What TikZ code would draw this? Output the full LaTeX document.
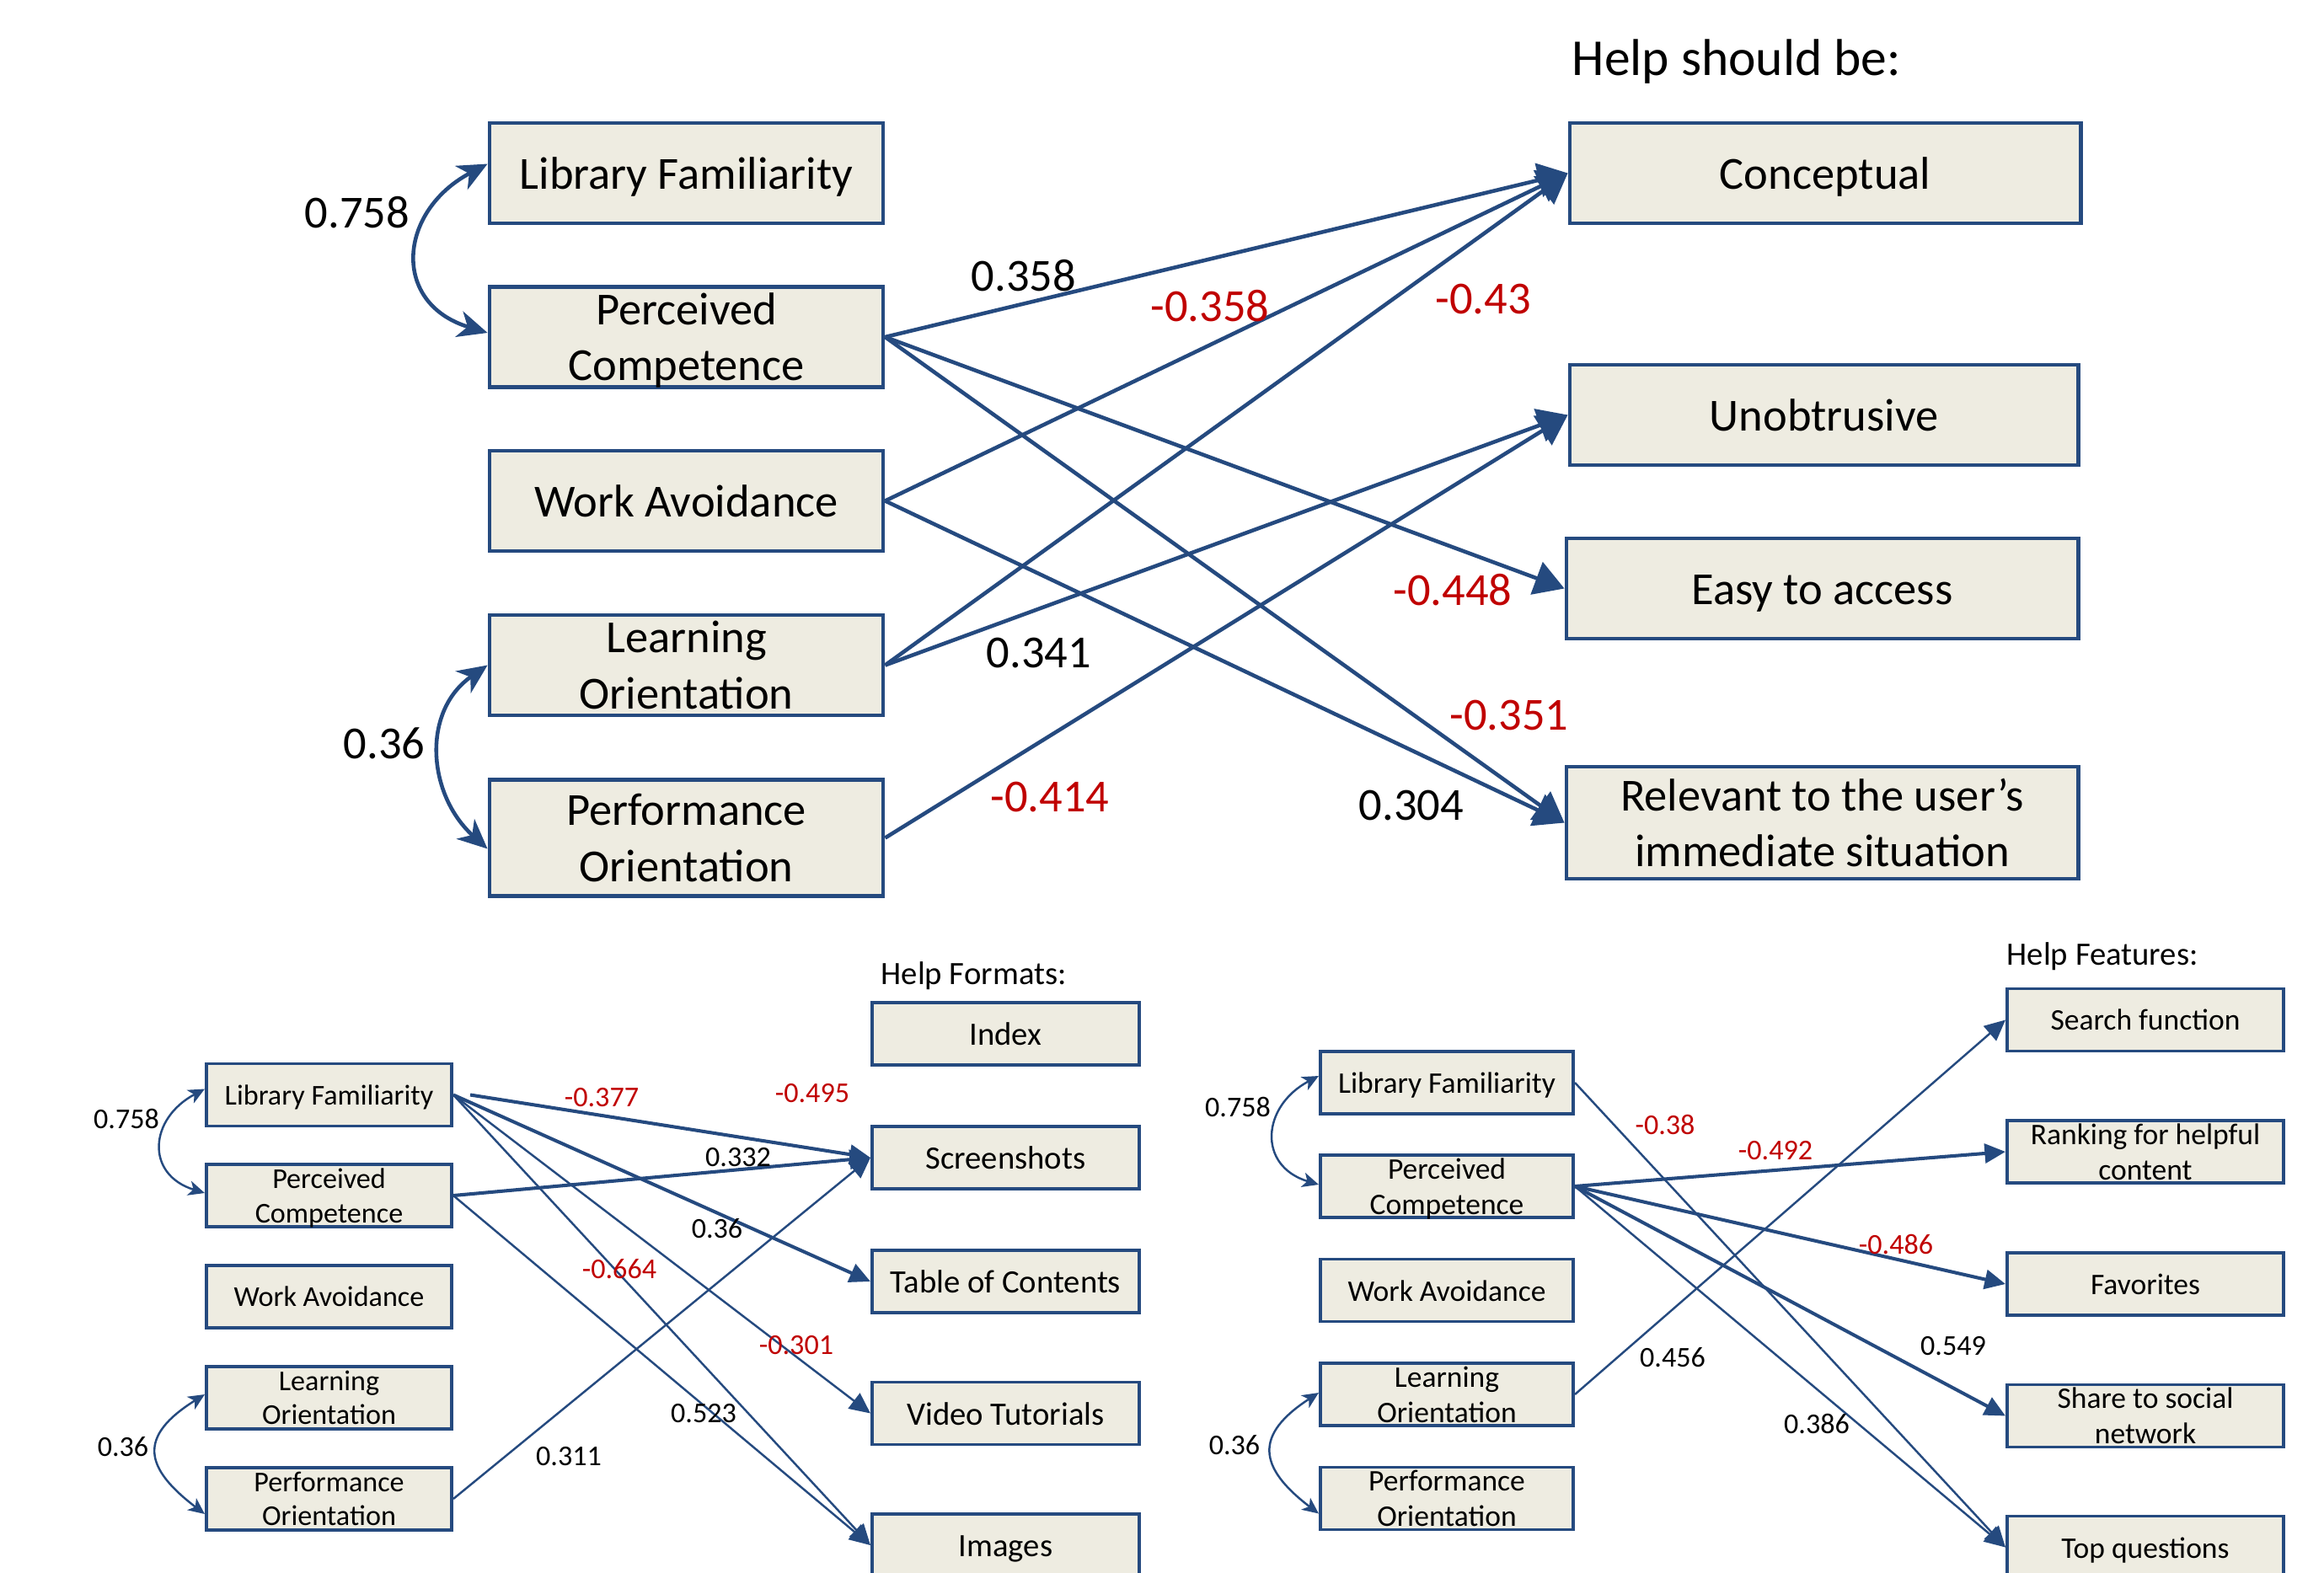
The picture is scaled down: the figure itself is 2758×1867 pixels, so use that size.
\documentclass[tikz,border=0pt]{standalone}
\usepackage{fontspec}
\setmainfont{Carlito}
\usetikzlibrary{arrows.meta,calc}
\definecolor{bcol}{HTML}{254A7F}
\definecolor{bfill}{HTML}{EEECE1}
\definecolor{negred}{HTML}{C00000}
\tikzset{
 tbox/.style={draw=bcol, fill=bfill, line width=1.3pt, inner sep=0pt, align=center,
   font=\fontsize{15.5}{18.8}\selectfont, minimum height=1.19cm},
 onet/.style={text height=10.6pt, text depth=0pt},
 oneb/.style={text height=6.8pt, text depth=0pt},
 onef/.style={text height=7.7pt, text depth=0pt},
 oner/.style={text height=7.1pt, text depth=0pt},
 bxbox/.style={draw=bcol, fill=bfill, line width=1.1pt, inner sep=0pt, align=center,
   font=\fontsize{9.7}{11.5}\selectfont, minimum height=0.74cm},
 fmtbox/.style={bxbox, font=\fontsize{11}{13}\selectfont},
 feabox/.style={bxbox, font=\fontsize{10.1}{11.9}\selectfont},
 tarr/.style={draw=bcol, line width=1.3pt, -{Triangle[length=10pt,width=11.5pt]}},
 tcurve/.style={draw=bcol, line width=1.3pt,
   {Stealth[length=10pt,width=9pt,inset=3pt]}-{Stealth[length=10pt,width=9pt,inset=3pt]}},
 barr/.style={draw=bcol, line width=0.7pt, -{Triangle[length=7pt,width=6.5pt]}},
 barrk/.style={barr, line width=1.15pt},
 bcurve/.style={draw=bcol, line width=0.7pt,
   {Stealth[length=5.5pt,width=5pt,inset=1.5pt]}-{Stealth[length=5.5pt,width=5pt,inset=1.5pt]}},
 tlab/.style={font=\fontsize{15.5}{18}\selectfont, inner sep=0pt},
 blab/.style={font=\fontsize{9.7}{11}\selectfont, inner sep=0pt},
 neg/.style={text=negred},
}
\begin{document}
\begin{tikzpicture}[x=0.01cm,y=-0.01cm]
\useasboundingbox (0,0) rectangle (2758,1867);
\clip (0,0) rectangle (2758,1867);

% ---------------- top diagram ----------------
\node[anchor=base west, font=\fontsize{17.5}{20}\selectfont, inner sep=0pt] (hs) at (1865,90) {Help should be:};

\node[tbox, onet, minimum width=4.67cm] (tLF) at (814.5,205.5) {Library Familiarity};
\node[tbox, minimum width=4.67cm] (tPC) at (814.5,400) {Perceived\\\smash{Competence}};
\node[tbox, onet, minimum width=4.67cm] (tWA) at (814.5,594.5) {Work Avoidance};
\node[tbox, minimum width=4.67cm] (tLO) at (814.5,789.5) {Learning\\Orientation};
\node[tbox, minimum width=4.67cm, minimum height=1.38cm] (tPO) at (814.5,994.5) {Performance\\Orientation};

\node[tbox, onet, minimum width=6.06cm] (tCo) at (2166,205.5) {Conceptual};
\node[tbox, onet, minimum width=6.03cm] (tUn) at (2164.5,492.5) {Unobtrusive};
\node[tbox, onet, minimum width=6.07cm] (tEa) at (2162.5,698.5) {Easy to access};
\node[tbox, minimum width=6.07cm, minimum height=1.33cm] (tRe) at (2162.5,976.5) {Relevant to the user’s\\immediate situation};

\draw[tcurve] ($(tLF.west)+(0,-11)$) .. controls +(-106,56) and +(-115,-35) .. ($(tPC.west)+(0,-5)$);
\draw[tcurve] ($(tLO.west)+(0,0)$) .. controls +(-79,55) and +(-71,-64) .. ($(tPO.west)+(0,13)$);

\draw[tarr] (tPC.east) -- (tCo.west);
\draw[tarr] (tWA.east) -- (tCo.west);
\draw[tarr] (tLO.east) -- (tCo.west);
\draw[tarr] (tPC.east) -- (tEa.west);
\draw[tarr] (tPC.east) -- (tRe.west);
\draw[tarr] (tWA.east) -- (tRe.west);
\draw[tarr] (tLO.east) -- (tUn.west);
\draw[tarr] (tPO.east) -- (tUn.west);

\node[tlab] (l01) at (424,252) {0.758};
\node[tlab] (l02) at (456,882) {0.36};
\node[tlab] (l03) at (1215,327) {0.358};
\node[tlab,neg] (l04) at (1436,363) {-0.358};
\node[tlab,neg] (l05) at (1760,355) {-0.43};
\node[tlab,neg] (l06) at (1724,700) {-0.448};
\node[tlab] (l07) at (1233,775) {0.341};
\node[tlab,neg] (l08) at (1791,849) {-0.351};
\node[tlab,neg] (l09) at (1246,946) {-0.414};
\node[tlab] (l10) at (1675,956) {0.304};

% ---------------- bottom left ----------------
\node[anchor=base west, font=\fontsize{11}{13}\selectfont, inner sep=0pt] (hf) at (1045,1168) {Help Formats:};

\node[bxbox, oneb, minimum width=2.91cm] (bLF) at (390.5,1299.5) {Library Familiarity};
\node[bxbox, minimum width=2.91cm] (bPC) at (390.5,1419) {Perceived\\\smash{Competence}};
\node[bxbox, oneb, minimum width=2.91cm] (bWA) at (390.5,1539) {Work Avoidance};
\node[bxbox, minimum width=2.91cm] (bLO) at (390.5,1659) {Learning\\Orientation};
\node[bxbox, minimum width=2.91cm] (bPO) at (390.5,1779) {Performance\\Orientation};

\node[fmtbox, onef, minimum width=3.17cm] (bIdx) at (1193.5,1227) {Index};
\node[fmtbox, onef, minimum width=3.17cm] (bScr) at (1193.5,1374) {Screenshots};
\node[fmtbox, onef, minimum width=3.17cm] (bToC) at (1193.5,1521) {Table of Contents};
\node[fmtbox, onef, minimum width=3.17cm] (bVid) at (1193.5,1677.5) {Video Tutorials};
\node[fmtbox, onef, minimum width=3.17cm] (bImg) at (1193.5,1834) {Images};

\draw[bcurve] ($(bLF.west)+(0,-7)$) .. controls +(-66,35) and +(-71,-22) .. ($(bPC.west)+(0,-3)$);
\draw[bcurve] ($(bLO.west)+(0,-4)$) .. controls +(-80,50) and +(-72,-55) .. ($(bPO.west)+(0,18)$);

\draw[barrk] ($(bLF.east)+(20,0)$) -- (bScr.west);
\draw[barrk] (bPC.east) -- (bScr.west);
\draw[barr] (bPO.east) -- (bScr.west);
\draw[barrk] (bLF.east) -- (bToC.west);
\draw[barr] (bLF.east) -- (bVid.west);
\draw[barr] (bLF.east) -- (bImg.west);
\draw[barr] (bPC.east) -- (bImg.west);

\node[blab] (m01) at (150,1328) {0.758};
\node[blab] (m02) at (146,1717) {0.36};
\node[blab,neg] (m03) at (714,1303) {-0.377};
\node[blab,neg] (m04) at (964,1298) {-0.495};
\node[blab] (m05) at (876,1374) {0.332};
\node[blab] (m06) at (851,1458) {0.36};
\node[blab,neg] (m07) at (735,1506) {-0.664};
\node[blab,neg] (m08) at (945,1597) {-0.301};
\node[blab] (m09) at (835,1678) {0.523};
\node[blab] (m10) at (675,1729) {0.311};

% ---------------- bottom right ----------------
\node[anchor=base west, font=\fontsize{11}{13}\selectfont, inner sep=0pt] (hft) at (2381,1145) {Help Features:};

\node[feabox, oner, minimum width=3.00cm] (rLF) at (1717,1285) {Library Familiarity};
\node[feabox, minimum width=3.00cm] (rPC) at (1717,1408) {Perceived\\\smash{Competence}};
\node[feabox, oner, minimum width=3.00cm] (rWA) at (1717,1531.5) {Work Avoidance};
\node[feabox, minimum width=3.00cm] (rLO) at (1717,1655) {Learning\\Orientation};
\node[feabox, minimum width=3.00cm] (rPO) at (1717,1778.5) {Performance\\Orientation};

\node[feabox, oner, minimum width=3.28cm] (rSea) at (2546,1210.5) {Search function};
\node[feabox, minimum width=3.28cm] (rRan) at (2546,1367) {Ranking for helpful\\content};
\node[feabox, oner, minimum width=3.28cm] (rFav) at (2546,1524) {Favorites};
\node[feabox, minimum width=3.28cm] (rSha) at (2546,1680.5) {Share to social\\network};
\node[feabox, oner, minimum width=3.28cm] (rTop) at (2546,1836.5) {Top questions};

\draw[bcurve] ($(rLF.west)+(0,-8)$) .. controls +(-68,36) and +(-73,-22) .. ($(rPC.west)+(0,-2)$);
\draw[bcurve] ($(rLO.west)+(0,-2)$) .. controls +(-77,50) and +(-72,-55) .. ($(rPO.west)+(0,18)$);

\draw[barr] (rLF.east) -- (rTop.west);
\draw[barrk] (rPC.east) -- (rRan.west);
\draw[barrk] (rPC.east) -- (rFav.west);
\draw[barrk] (rPC.east) -- (rSha.west);
\draw[barr] (rPC.east) -- (rTop.west);
\draw[barr] (rLO.east) -- (rSea.west);

\node[blab] (n01) at (1469,1314) {0.758};
\node[blab] (n02) at (1465,1715) {0.36};
\node[blab,neg] (n03) at (1976,1335) {-0.38};
\node[blab,neg] (n04) at (2107,1366) {-0.492};
\node[blab,neg] (n05) at (2250,1477) {-0.486};
\node[blab] (n06) at (2318,1598) {0.549};
\node[blab] (n07) at (1985,1611) {0.456};
\node[blab] (n08) at (2156,1690) {0.386};
\end{tikzpicture}
\end{document}
